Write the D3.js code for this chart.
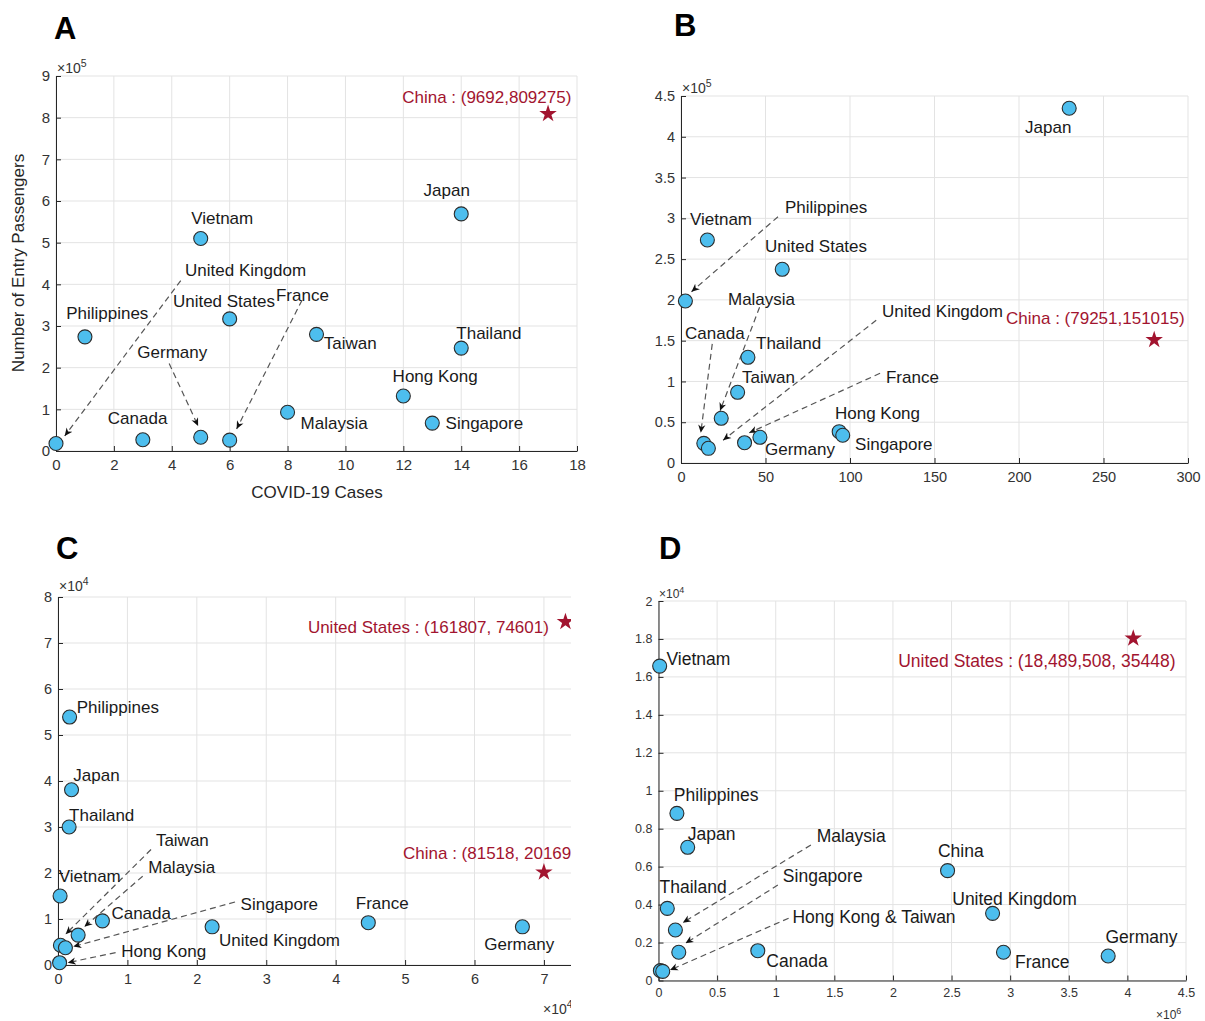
<!DOCTYPE html>
<html>
<head>
<meta charset="utf-8">
<script src="https://cdn.jsdelivr.net/npm/d3@7"></script>
<style>
  body { margin: 0; background: #fff; }
  text { font-family: "Liberation Sans", Arial, Helvetica, sans-serif; }
</style>
</head>
<body>
<svg id="fig" width="1205" height="1021"></svg>
<script>
// ---------------- Panel A: COVID-19 cases vs. entry passengers ----------------
const aNames = ["United Kingdom", "Philippines", "Canada", "Vietnam", "Germany", "United States",
                "France", "Malaysia", "Taiwan", "Hong Kong", "Singapore", "Thailand", "Japan"];
const aCases = [0, 1, 3, 5, 5, 6, 6, 8, 9, 12, 13, 14, 14];
const aPassengers = [18000, 274000, 27000, 510000, 33000, 317000, 26000, 93000, 280000,
                     132000, 67000, 247000, 569000];
const aXTicks = [0, 2, 4, 6, 8, 10, 12, 14, 16, 18];
const aXTickLabels = ["0", "2", "4", "6", "8", "10", "12", "14", "16", "18"];
const aYTicks = [0, 100000, 200000, 300000, 400000, 500000, 600000, 700000, 800000, 900000];
const aYTickLabels = ["0", "1", "2", "3", "4", "5", "6", "7", "8", "9"];
// label anchors (data coordinates, left / middle)
const aLabelX = [4.46, 0.35, 1.79, 4.67, 2.81, 4.04, 7.60, 8.45, 9.25, 11.63, 13.46, 13.83, 12.70];
const aLabelY = [434000, 329000, 78000, 557000, 236000, 358000, 374000, 66500, 257000,
                 178000, 65000, 282000, 625000];
// dashed call-outs [x1, y1, x2, y2] in data coordinates
const aArrows = [[4.31, 409000, 0.30, 36000],
                 [3.91, 210000, 4.91, 60000],
                 [8.50, 362000, 6.24, 53000]];
// highlighted country (off-scale on x, drawn near the right edge)
const aStarText = "China : (9692,809275)";
const aStarPlotX = 17;
const aStarY = 809275;
const aStarLabel = [11.96, 849000];

// ---------------- Panel B ----------------
const bNames = ["Japan", "Vietnam", "United States", "Philippines", "Thailand", "Taiwan", "Malaysia",
                "Canada", "United Kingdom", "France", "Germany", "Hong Kong", "Singapore"];
const bX = [229.7, 15.6, 59.9, 2.6, 39.6, 33.5, 23.8, 13.5, 16.2, 37.6, 46.7, 93.6, 95.7];
const bY = [435000, 273400, 237500, 198600, 129600, 86700, 54800, 24100, 18000, 24900, 31500,
            38400, 34000];
const bXTicks = [0, 50, 100, 150, 200, 250, 300];
const bXTickLabels = ["0", "50", "100", "150", "200", "250", "300"];
const bYTicks = [0, 50000, 100000, 150000, 200000, 250000, 300000, 350000, 400000, 450000];
const bYTickLabels = ["0", "0.5", "1", "1.5", "2", "2.5", "3", "3.5", "4", "4.5"];
const bLabelX = [203.6, 5.3, 49.7, 61.5, 44.4, 36.1, 27.8, 2.4, 118.9, 121.3, 49.7, 91.1, 103];
const bLabelY = [411000, 298000, 265000, 313000, 146000, 105000, 201000, 159000, 186000, 105000,
                 16000, 61000, 23000];
const bArrows = [[57.4, 302000, 6.2, 210000],
                 [46.5, 191000, 23.1, 64000],
                 [18.5, 146000, 11.7, 37000],
                 [115.5, 175000, 24.9, 28000],
                 [117.8, 110000, 40.4, 37000]];
const bStarText = "China : (79251,151015)";
const bStarPlotX = 280;
const bStarY = 151015;
const bStarLabel = [192.3, 177000];

// ---------------- Panel C ----------------
const cNames = ["Philippines", "Japan", "Thailand", "Vietnam", "Canada", "Malaysia", "Taiwan",
                "Singapore", "Hong Kong", "United Kingdom", "France", "Germany"];
const cX = [1670, 1950, 1600, 300, 6400, 2900, 350, 1070, 230, 22200, 44700, 66900];
const cY = [53900, 38100, 30000, 15000, 9600, 6500, 4300, 3750, 500, 8300, 9200, 8300];
const cXTicks = [0, 10000, 20000, 30000, 40000, 50000, 60000, 70000];
const cXTickLabels = ["0", "1", "2", "3", "4", "5", "6", "7"];
const cYTicks = [0, 10000, 20000, 30000, 40000, 50000, 60000, 70000, 80000];
const cYTickLabels = ["0", "1", "2", "3", "4", "5", "6", "7", "8"];
const cLabelX = [2700, 2200, 1600, 100, 7700, 13000, 14100, 26300, 9100, 23200, 42900, 61400];
const cLabelY = [55900, 41200, 32500, 19300, 11300, 21200, 27100, 13200, 2900, 5300, 13400, 4500];
const cArrows = [[13400, 25100, 1100, 6700],
                 [12200, 19300, 3800, 8300],
                 [25500, 13700, 2200, 4000],
                 [8300, 2700, 1400, 500]];
const cStarText = ["United States : (161807, 74601)", "China : (81518, 20169)"];
const cStarPlotX = [73100, 70000];
const cStarY = [74601, 20169];
const cStarLabel = [[36000, 73400], [49700, 24200]];

// ---------------- Panel D ----------------
const dNames = ["Vietnam", "Philippines", "Japan", "Thailand", "Malaysia", "Singapore", "Hong Kong",
                "Taiwan", "Canada", "China", "United Kingdom", "France", "Germany"];
const dX = [10000, 157000, 249000, 75000, 144000, 173000, 16000, 36000, 847000, 2466000, 2850000,
            2943000, 3836000];
const dY = [16570, 8810, 7020, 3800, 2660, 1490, 520, 480, 1570, 5790, 3540, 1490, 1290];
const dXTicks = [0, 500000, 1000000, 1500000, 2000000, 2500000, 3000000, 3500000, 4000000, 4500000];
const dXTickLabels = ["0", "0.5", "1", "1.5", "2", "2.5", "3", "3.5", "4", "4.5"];
const dYTicks = [0, 2000, 4000, 6000, 8000, 10000, 12000, 14000, 16000, 18000, 20000];
const dYTickLabels = ["0", "0.2", "0.4", "0.6", "0.8", "1", "1.2", "1.4", "1.6", "1.8", "2"];
const dLabelText = ["Vietnam", "Philippines", "Japan", "Thailand", "Malaysia", "Singapore",
                    "Hong Kong & Taiwan", "Canada", "China", "United Kingdom", "France", "Germany"];
const dLabelX = [68000, 131000, 249000, 9000, 1349000, 1061000, 1143000, 920000, 2384000, 2506000,
                 3041000, 3813000];
const dLabelY = [16930, 9780, 7700, 4910, 7630, 5510, 3350, 1040, 6820, 4280, 990, 2310];
const dArrows = [[1300000, 7140, 207000, 3050],
                 [1018000, 5030, 230000, 1960],
                 [1110000, 3280, 98000, 550]];
const dStarText = "United States : (18,489,508, 35448)";
const dStarPlotX = 4050000;
const dStarPlotY = 18030;
const dStarLabel = [2045000, 16840];

// ---------------------------------------------------------------------------
const svg = d3.select("#fig");
svg.append("rect").attr("width", 1205).attr("height", 1021).attr("fill", "#fff");

const defs = svg.append("defs");
defs.append("marker")
  .attr("id", "head")
  .attr("viewBox", "0 0 10 10")
  .attr("refX", 10).attr("refY", 5)
  .attr("markerWidth", 8).attr("markerHeight", 8)
  .attr("markerUnits", "userSpaceOnUse")
  .attr("orient", "auto")
  .append("path")
  .attr("d", "M0,0.5 L10,5 L0,9.5 L3,5 Z")
  .attr("fill", "#111");

// panel C is cut off at its right edge
defs.append("clipPath").attr("id", "clipC")
  .append("rect").attr("x", 0).attr("y", 515).attr("width", 571).attr("height", 506);

const DOT_FILL = "#4dbeee", DOT_STROKE = "#2b2b2b", RED = "#a2142f";
const star = d3.symbol().type(d3.symbolStar).size(95);

function drawPanel(p) {
  const g = svg.append("g");
  if (p.clip) g.attr("clip-path", `url(#${p.clip})`);
  const x = d3.scaleLinear().domain(p.xDomain).range([p.box.left, p.box.right]);
  const y = d3.scaleLinear().domain(p.yDomain).range([p.box.bottom, p.box.top]);

  // grid
  const grid = g.append("g").attr("stroke", "#e3e3e3").attr("stroke-width", 1);
  grid.selectAll("line.vx").data(p.xTicks).join("line").attr("class", "vx")
    .attr("x1", d => x(d)).attr("x2", d => x(d)).attr("y1", p.box.top).attr("y2", p.box.bottom);
  grid.selectAll("line.hy").data(p.yTicks).join("line").attr("class", "hy")
    .attr("x1", p.box.left).attr("x2", p.box.right).attr("y1", d => y(d)).attr("y2", d => y(d));

  // axes
  const styleAxis = a => {
    a.select(".domain").attr("stroke", "#262626");
    a.selectAll(".tick line").attr("stroke", "#262626");
    a.selectAll("text").attr("font-family", '"Liberation Sans", Arial, sans-serif')
      .attr("font-size", p.tickSize).attr("fill", "#333");
  };
  g.append("g").attr("transform", `translate(0,${p.box.bottom})`)
    .call(d3.axisBottom(x).tickValues(p.xTicks).tickFormat((d, i) => p.xTickLabels[i])
      .tickSizeInner(-5).tickSizeOuter(0).tickPadding(p.xPad))
    .call(styleAxis);
  g.append("g").attr("transform", `translate(${p.box.left},0)`)
    .call(d3.axisLeft(y).tickValues(p.yTicks).tickFormat((d, i) => p.yTickLabels[i])
      .tickSizeInner(-5).tickSizeOuter(0).tickPadding(6))
    .call(styleAxis);

  // exponent labels
  const expo = (px, py, exp, size) => {
    const t = g.append("text").attr("x", px).attr("y", py).attr("font-size", size).attr("fill", "#333");
    t.append("tspan").text("\u00d710");
    t.append("tspan").attr("dy", -size * 0.4).attr("font-size", size * 0.75).text(exp);
  };
  if (p.yExp) expo(p.yExp[0], p.yExp[1], p.yExp[2], p.expSize);
  if (p.xExp) expo(p.xExp[0], p.xExp[1], p.xExp[2], p.expSize);

  // dashed call-outs
  g.append("g").selectAll("line").data(p.arrows).join("line")
    .attr("x1", d => x(d[0])).attr("y1", d => y(d[1]))
    .attr("x2", d => x(d[2])).attr("y2", d => y(d[3]))
    .attr("stroke", "#555").attr("stroke-width", 1.2)
    .attr("stroke-dasharray", "6,4").attr("marker-end", "url(#head)");

  // country markers
  g.append("g").selectAll("circle").data(p.xs.map((v, i) => [v, p.ys[i]])).join("circle")
    .attr("cx", d => x(d[0])).attr("cy", d => y(d[1])).attr("r", 7)
    .attr("fill", DOT_FILL).attr("stroke", DOT_STROKE).attr("stroke-width", 1.1);

  // highlighted countries
  g.append("g").selectAll("path").data(p.stars).join("path")
    .attr("d", star).attr("fill", RED)
    .attr("transform", d => `translate(${x(d.x)},${y(d.y)})`);
  g.append("g").selectAll("text").data(p.stars).join("text")
    .attr("x", d => x(d.lx)).attr("y", d => y(d.ly))
    .attr("dominant-baseline", "central").attr("font-size", p.labelSize).attr("fill", RED)
    .text(d => d.text);

  // country labels
  g.append("g").selectAll("text").data(p.labels.map((t, i) => [t, p.lx[i], p.ly[i]])).join("text")
    .attr("x", d => x(d[1])).attr("y", d => y(d[2]))
    .attr("dominant-baseline", "central").attr("font-size", p.labelSize).attr("fill", "#1a1a1a")
    .text(d => d[0]);

  // panel letter
  svg.append("text").attr("x", p.letter[1]).attr("y", p.letter[2])
    .attr("font-size", 31).attr("font-weight", "bold").attr("fill", "#000").text(p.letter[0]);
  return { g, x, y };
}

// Panel A
const A = drawPanel({
  box: { left: 56, right: 577, top: 76, bottom: 451 },
  xDomain: [0, 18], yDomain: [0, 900000],
  xTicks: aXTicks, xTickLabels: aXTickLabels, yTicks: aYTicks, yTickLabels: aYTickLabels,
  tickSize: 15, xPad: 8, labelSize: 17, expSize: 14,
  yExp: [57, 73, "5"],
  xs: aCases, ys: aPassengers,
  labels: aNames, lx: aLabelX, ly: aLabelY,
  arrows: aArrows,
  stars: [{ x: aStarPlotX, y: aStarY, text: aStarText, lx: aStarLabel[0], ly: aStarLabel[1] }],
  letter: ["A", 54, 39]
});
A.g.append("text").attr("x", 317).attr("y", 492).attr("text-anchor", "middle")
  .attr("dominant-baseline", "central").attr("font-size", 17).attr("fill", "#262626")
  .text("COVID-19 Cases");
A.g.append("text").attr("transform", "translate(18,263) rotate(-90)").attr("text-anchor", "middle")
  .attr("dominant-baseline", "central").attr("font-size", 17).attr("fill", "#262626")
  .text("Number of Entry Passengers");

// Panel B
drawPanel({
  box: { left: 681, right: 1188, top: 96, bottom: 463 },
  xDomain: [0, 300], yDomain: [0, 450000],
  xTicks: bXTicks, xTickLabels: bXTickLabels, yTicks: bYTicks, yTickLabels: bYTickLabels,
  tickSize: 14.5, xPad: 9, labelSize: 17, expSize: 14,
  yExp: [682, 93, "5"],
  xs: bX, ys: bY,
  labels: bNames, lx: bLabelX, ly: bLabelY,
  arrows: bArrows,
  stars: [{ x: bStarPlotX, y: bStarY, text: bStarText, lx: bStarLabel[0], ly: bStarLabel[1] }],
  letter: ["B", 674, 36]
});

// Panel C
drawPanel({
  box: { left: 58, right: 571, top: 597, bottom: 965 },
  xDomain: [0, 73900], yDomain: [0, 80000],
  xTicks: cXTicks, xTickLabels: cXTickLabels, yTicks: cYTicks, yTickLabels: cYTickLabels,
  tickSize: 14.5, xPad: 9, labelSize: 17, expSize: 14,
  yExp: [59, 591, "4"], xExp: [543, 1014, "4"],
  clip: "clipC",
  xs: cX, ys: cY,
  labels: cNames, lx: cLabelX, ly: cLabelY,
  arrows: cArrows,
  stars: cStarText.map((t, i) => ({ x: cStarPlotX[i], y: cStarY[i], text: t,
                                    lx: cStarLabel[i][0], ly: cStarLabel[i][1] })),
  letter: ["C", 56, 559]
});

// Panel D
drawPanel({
  box: { left: 658.5, right: 1186, top: 601, bottom: 980.5 },
  xDomain: [0, 4500000], yDomain: [0, 20000],
  xTicks: dXTicks, xTickLabels: dXTickLabels, yTicks: dYTicks, yTickLabels: dYTickLabels,
  tickSize: 12.5, xPad: 8, labelSize: 17.5, expSize: 12,
  yExp: [659, 598, "4"], xExp: [1156, 1019, "6"],
  xs: dX, ys: dY,
  labels: dLabelText, lx: dLabelX, ly: dLabelY,
  arrows: dArrows,
  stars: [{ x: dStarPlotX, y: dStarPlotY, text: dStarText, lx: dStarLabel[0], ly: dStarLabel[1] }],
  letter: ["D", 659, 559]
});
</script>
</body>
</html>
